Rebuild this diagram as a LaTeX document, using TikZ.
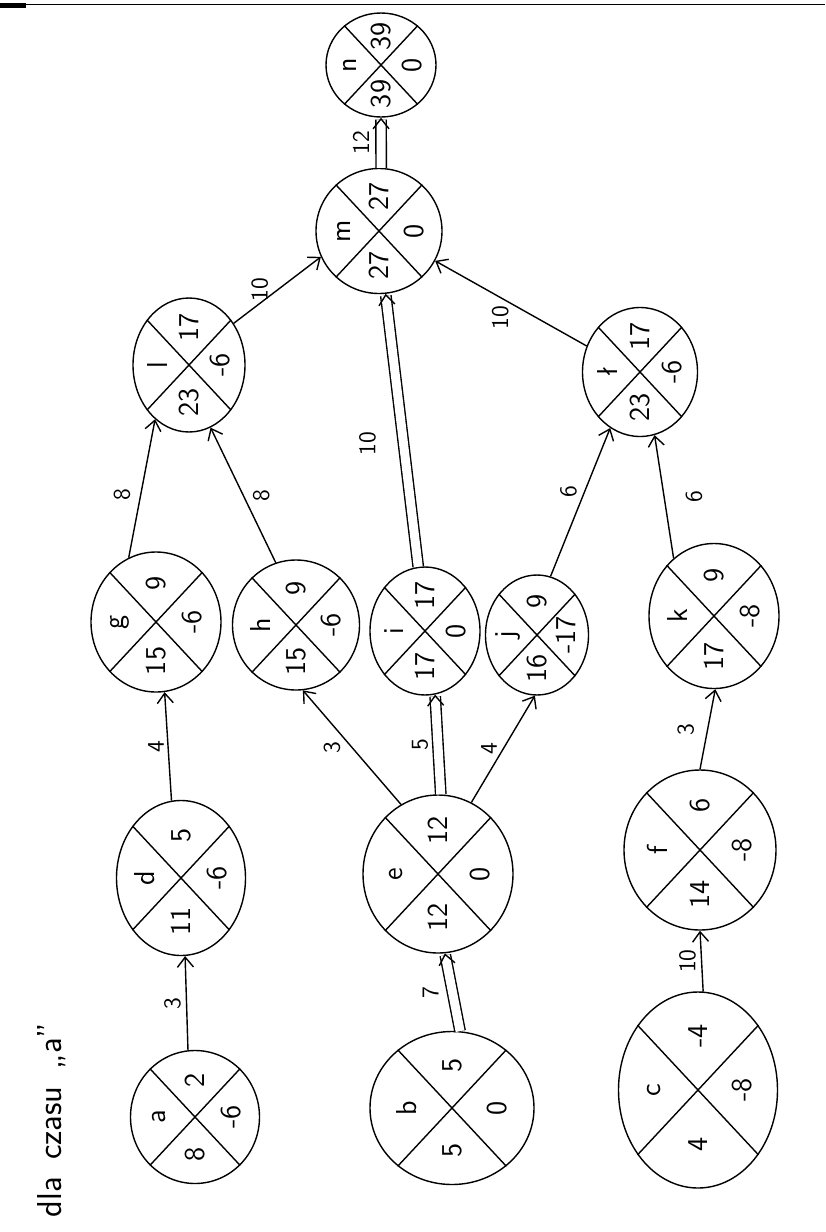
\documentclass[tikz,border=0pt]{standalone}
\usepackage{fontspec}
\usetikzlibrary{calc,shapes.geometric,arrows.meta}

\tikzset{
  zd/.style={draw, ellipse, inner sep=0pt, line width=0.7pt},
  txt/.style={rotate=90, font=\sffamily\Large, inner sep=0pt},
  lbl/.style={rotate=90, font=\sffamily\large, inner sep=1pt},
  strz/.style={line width=0.7pt, -{Straight Barb[length=5pt,width=8pt]}},
  kryt/.style={strz, double, double distance=4.5pt},
}

% zdarzenie: nazwa, polozenie, szer., wys., etykieta, gora, prawo, dol
\newcommand{\zdarzenie}[8]{%
  \node[zd, minimum width=#3*0.5pt, minimum height=#4*0.5pt] (#1) at #2 {};
  \draw[line width=0.7pt] (#1.133) -- (#1.-47) (#1.47) -- (#1.-133);
  \node[txt] at ($(#1.center)!0.55!(#1.west)$) {#5};
  \node[txt] at ($(#1.center)!0.55!(#1.north)$) {#6};
  \node[txt] at ($(#1.center)!0.55!(#1.east)$) {#7};
  \node[txt] at ($(#1.center)!0.55!(#1.south)$) {#8};
}

\begin{document}
\begin{tikzpicture}[x=0.5pt,y=-0.5pt]
  \useasboundingbox (0,0) rectangle (825,1232);

  % brzeg skanu
  \fill (0,3) rectangle (26,8);
  \draw[line width=0.8pt] (26,4.5) -- (825,4.5);

  % podpis
  \node[txt, font=\sffamily\LARGE] (tytul) at (52,1120) {dla\enskip czasu\enskip „a”};

  %----------------------
  % Zdarzenia
  %----------------------
  \zdarzenie{a}{(195,1117)}{129}{133}{a}{2}{-6}{8}
  \zdarzenie{b}{(452,1108)}{164}{153}{b}{5}{0}{5}
  \zdarzenie{c}{(698,1090)}{159}{196}{c}{-4}{-8}{4}
  \zdarzenie{d}{(181,878)}{129}{155}{d}{5}{-6}{11}
  \zdarzenie{e}{(438,874)}{150}{158}{e}{12}{0}{12}
  \zdarzenie{f}{(700,850)}{152}{160}{f}{6}{-8}{14}
  \zdarzenie{g}{(156,622)}{130}{140}{g}{9}{-6}{15}
  \zdarzenie{h}{(296,625)}{127}{130}{h}{9}{-6}{15}
  \zdarzenie{i}{(425,631)}{110}{128}{i}{17}{0}{17}
  \zdarzenie{j}{(537,635)}{103}{120}{j}{9}{-17}{16}
  \zdarzenie{k}{(714,616)}{130}{145}{k}{9}{-8}{17}
  \zdarzenie{l}{(189,365)}{112}{134}{l}{17}{-6}{23}
  \zdarzenie{l2}{(640,372)}{115}{129}{ł}{17}{-6}{23}
  \zdarzenie{m}{(379,231)}{126}{125}{m}{27}{0}{27}
  \zdarzenie{n}{(381,65)}{110}{104}{n}{39}{0}{39}

  %----------------------
  % Czynnosci
  %----------------------
  \draw[strz] (a.96) -- (d.-87) node[midway, xshift=-7pt, lbl] {3};
  \draw[kryt] (b.84) -- (e.-85) node[midway, xshift=-11pt, lbl] {7};
  \draw[strz] (c.87) -- (f.-90) node[midway, xshift=-7pt, lbl] {10};
  \draw[strz] (d.97) -- (g.-83) node[midway, xshift=-6pt, lbl] {4};
  \draw[strz] (e.118) -- (h.-84) node[midway, xshift=-10pt, lbl] {3};
  \draw[kryt] (e.88) -- (i.-81) node[midway, xshift=-9pt, lbl] {5};
  \draw[strz] (e.65) -- (j.-92) node[midway, xshift=-7pt, lbl] {4};
  \draw[strz] (f.90) -- (k.-89) node[midway, xshift=-11pt, lbl] {3};
  \draw[strz] (g.113) -- (l.-122) node[midway, xshift=-10pt, yshift=-3pt, lbl] {8};
  \draw[strz] (h.108) -- (l.-71) node[midway, xshift=9pt, lbl] {8};
  \draw[kryt] (i.96) -- (m.-84) node[pos=0.45, xshift=-18pt, lbl] {10};
  \draw[strz] (j.77) -- (l2.-118) node[pos=0.57, xshift=-8pt, lbl] {6};
  \draw[strz] (k.125) -- (l2.-77) node[midway, xshift=15pt, lbl] {6};
  \draw[strz] (l.43) -- (m.204) node[pos=0.3, yshift=7pt, lbl] {10};
  \draw[strz] (l2.154) -- (m.-28) node[pos=0.57, yshift=-10pt, lbl] {10};
  \draw[kryt] (m.88) -- (n.-90) node[midway, xshift=-10pt, lbl] {12};
\end{tikzpicture}
\end{document}
